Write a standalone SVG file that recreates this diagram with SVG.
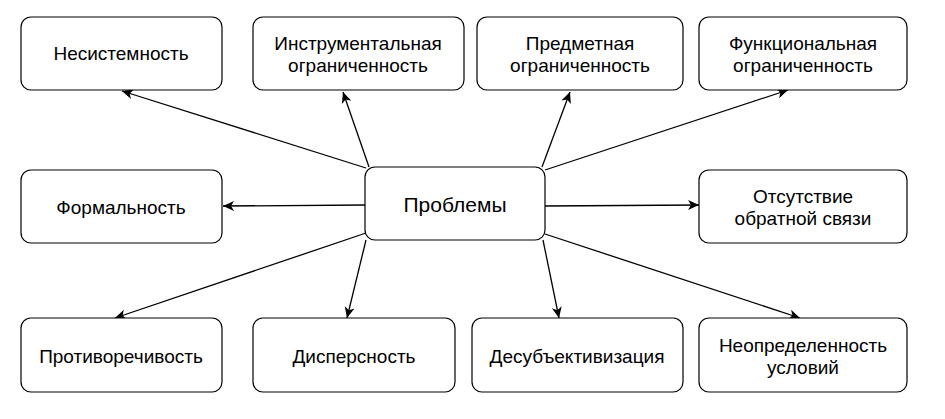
<svg xmlns="http://www.w3.org/2000/svg" width="945" height="419" viewBox="0 0 945 419">
<style>
.box{fill:#fff;stroke:#000;stroke-width:1.2}
.t{font-family:"Liberation Sans",Arial,sans-serif;font-size:19px;fill:#000;text-anchor:middle}
.big{font-size:21px}
.c{stroke:#000;stroke-width:1.3;fill:none;marker-end:url(#ah)}
</style>
<defs>
<marker id="ah" markerUnits="userSpaceOnUse" markerWidth="14" markerHeight="12" refX="11" refY="5" orient="auto" viewBox="0 0 14 10">
<path d="M0,0 L11,5 L0,10 L3,5 Z" fill="#000"/>
</marker>
</defs>
<rect width="945" height="419" fill="#fff"/>
<g id="connectors">
<line class="c" x1="366" y1="168" x2="122" y2="91"/>
<line class="c" x1="369" y1="167" x2="343" y2="92"/>
<line class="c" x1="542" y1="167" x2="570" y2="92"/>
<line class="c" x1="545" y1="170" x2="788" y2="90"/>
<line class="c" x1="365" y1="205" x2="223" y2="206"/>
<line class="c" x1="545" y1="206" x2="699" y2="205"/>
<line class="c" x1="366" y1="233" x2="115" y2="318"/>
<line class="c" x1="366" y1="240" x2="347" y2="318"/>
<line class="c" x1="543" y1="240" x2="559" y2="318"/>
<line class="c" x1="545" y1="234" x2="800" y2="318"/>
</g>
<g id="n-problems"><rect class="box" x="365" y="167" width="180" height="73" rx="10"/><text class="t big" x="455" y="212">Проблемы</text></g>
<g id="n1"><rect class="box" x="21" y="17" width="201" height="73" rx="10"/><text class="t" x="121" y="60">Несистемность</text></g>
<g id="n2"><rect class="box" x="253" y="17" width="211" height="73" rx="10"/><text class="t" x="358" y="50">Инструментальная</text><text class="t" x="358" y="72">ограниченность</text></g>
<g id="n3"><rect class="box" x="477" y="17" width="206" height="73" rx="10"/><text class="t" x="580" y="50">Предметная</text><text class="t" x="580" y="72">ограниченность</text></g>
<g id="n4"><rect class="box" x="699" y="17" width="208" height="73" rx="10"/><text class="t" x="803" y="50">Функциональная</text><text class="t" x="803" y="72">ограниченность</text></g>
<g id="n5"><rect class="box" x="21" y="170" width="201" height="73" rx="10"/><text class="t" x="121" y="214">Формальность</text></g>
<g id="n6"><rect class="box" x="699" y="170" width="208" height="73" rx="10"/><text class="t" x="803" y="203">Отсутствие</text><text class="t" x="803" y="225">обратной связи</text></g>
<g id="n7"><rect class="box" x="21" y="318" width="201" height="74" rx="10"/><text class="t" x="121" y="363">Противоречивость</text></g>
<g id="n8"><rect class="box" x="253" y="318" width="202" height="74" rx="10"/><text class="t" x="354" y="363">Дисперсность</text></g>
<g id="n9"><rect class="box" x="472" y="318" width="211" height="74" rx="10"/><text class="t" x="577" y="363">Десубъективизация</text></g>
<g id="n10"><rect class="box" x="699" y="318" width="208" height="74" rx="10"/><text class="t" x="803" y="352">Неопределенность</text><text class="t" x="803" y="374">условий</text></g>
</svg>
